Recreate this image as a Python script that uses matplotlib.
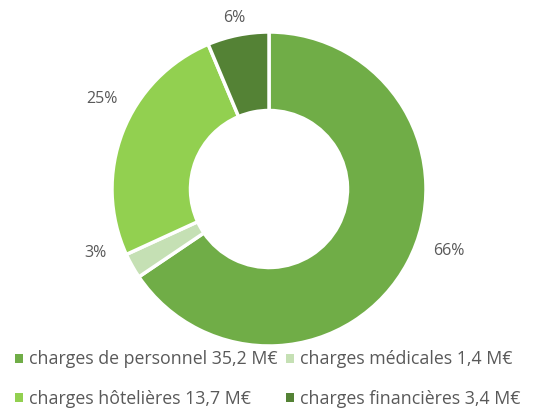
import matplotlib.pyplot as plt
import numpy as np

labels = ["charges de personnel 35,2 M€", "charges médicales 1,4 M€",
          "charges hôtelières 13,7 M€", "charges financières 3,4 M€"]
values = [35.2, 1.4, 13.7, 3.4]
pct_labels = ["66%", "3%", "25%", "6%"]
colors = ["#70AD47", "#C5E0B4", "#92D050", "#548235"]

plt.rcParams['font.family'] = ['Open Sans', 'DejaVu Sans']

fig = plt.figure(figsize=(5.36, 4.12), dpi=100)
ax = fig.add_axes([112/536, 66/412, 314/536, 314/412])

wedges, _ = ax.pie(values, colors=colors, startangle=90, counterclock=False,
                   radius=1, wedgeprops=dict(width=0.5, edgecolor="white", linewidth=2.5))
ax.set_xlim(-1, 1)
ax.set_ylim(-1, 1)
ax.set_aspect("equal")

# percent labels around the ring (distance, angle shift in degrees)
dist = [1.21, 1.18, 1.21, 1.11]
shift = [9, -9, -7, 0]
for w, txt, d, s in zip(wedges, pct_labels, dist, shift):
    ang = np.deg2rad((w.theta1 + w.theta2) / 2 + s)
    ax.text(d * np.cos(ang), d * np.sin(ang), txt, ha="center", va="center",
            fontsize=11.5, color="#595959", clip_on=False)

order = [0, 2, 1, 3]
leg = fig.legend([wedges[i] for i in order], [labels[i] for i in order],
                 ncol=2, loc="lower left", bbox_to_anchor=(0.005, -0.02),
                 frameon=False, fontsize=12.8, handlelength=0.42, handleheight=0.42,
                 handletextpad=0.35, labelspacing=1.2, columnspacing=0.5,
                 labelcolor="#595959", borderaxespad=0.3)
for h in leg.legend_handles:
    h.set_edgecolor("none")

fig.savefig("out.png", dpi=100)
